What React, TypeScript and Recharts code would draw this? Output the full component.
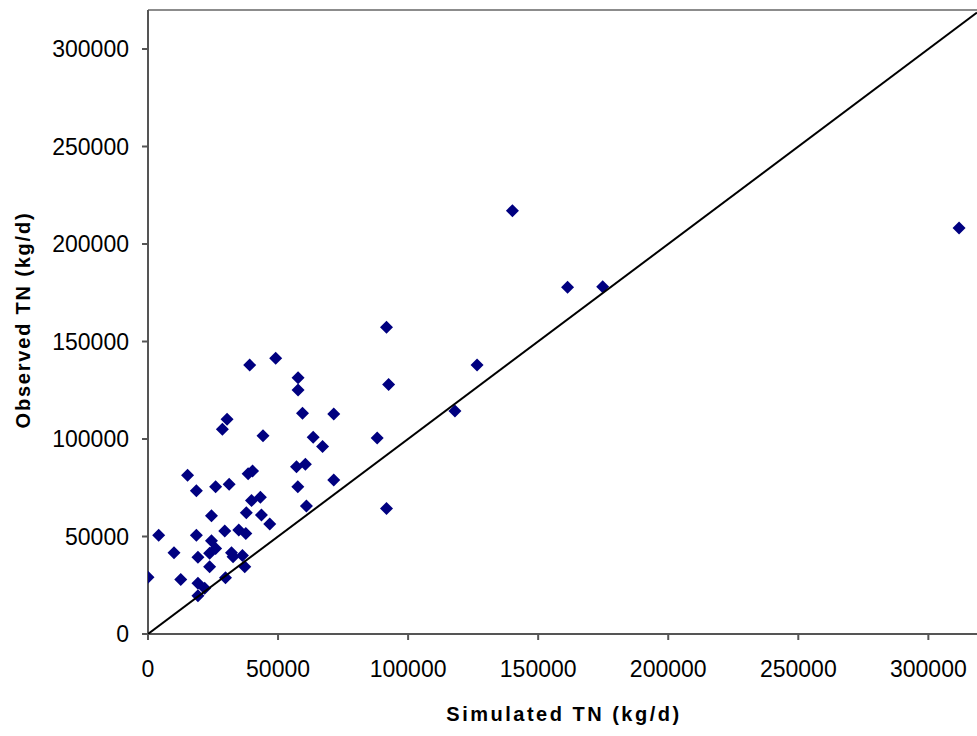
import { ScatterChart, Scatter, XAxis, YAxis, ReferenceLine } from 'recharts';

// simulated vs observed total nitrogen, kg/d
const simulated = [
    91700, 49100, 39100, 57700, 57700, 92500, 59400, 71400, 30400, 28600,
    44200, 88100, 63500, 67100, 15200, 38500, 40200, 57100, 60500, 18600,
    26000, 31200, 57600, 71400, 43200, 39800, 37800, 43600, 46800, 60900,
    91700, 24400, 4100, 18600, 29500, 34900, 37600, 10000, 24400, 26000,
    19200, 23700, 32100, 32700, 36300, 23700, 37200, 0, 12600, 29800,
    19200, 21800, 19200, 140100, 161300, 174800, 126500, 118000, 311800,
];
const observed = [
    157300, 141400, 137900, 131400, 125100, 127900, 113200, 112800, 110100, 105000,
    101700, 100500, 100900, 96100, 81400, 82200, 83600, 85800, 87000, 73500,
    75500, 76800, 75500, 79000, 70100, 68400, 62200, 61000, 56400, 65600,
    64300, 60700, 50600, 50600, 52800, 53300, 51600, 41700, 47800, 43900,
    39300, 41400, 41700, 39600, 40200, 34500, 34500, 29100, 28000, 28900,
    26000, 23400, 19600, 217100, 177800, 178100, 137900, 114400, 208200,
];

const xTicks = [0, 50000, 100000, 150000, 200000, 250000, 300000];
const yTicks = [0, 50000, 100000, 150000, 200000, 250000, 300000];
const oneToOne = [0, 318700];

const points = simulated.map((x, i) => ({ x, y: observed[i] }));
const lineData = oneToOne.map(v => ({ x: v, y: v }));

const FONT = '"Liberation Sans", Arial, sans-serif';

const Diamond = (props: any) => {
    const { cx, cy } = props;
    if (cx == null || cy == null) return null;
    const r = 6.5;
    return (
        <polygon
            points={`${cx},${cy - r} ${cx + r},${cy} ${cx},${cy + r} ${cx - r},${cy}`}
            fill="#000080"
        />
    );
};

export default function App() {
    return (
        <div style={{ position: 'absolute', left: 0, top: 0, width: 977, height: 736, background: '#fff' }}>
            <ScatterChart width={977} height={736} margin={{ top: 10, right: 0, bottom: 42, left: 8 }}>
                <XAxis
                    type="number"
                    dataKey="x"
                    domain={[0, 318700]}
                    ticks={xTicks}
                    allowDataOverflow
                    height={60}
                    stroke="#555"
                    strokeWidth={2}
                    tickSize={6}
                    tickMargin={21}
                    tick={{ fill: '#000', fontSize: 23, fontFamily: FONT }}
                    label={{
                        content: () => (
                            <text x={564} y={721} textAnchor="middle" fontFamily={FONT} fontSize={20}
                                fontWeight="bold" letterSpacing={2.5} fill="#000">
                                Simulated TN (kg/d)
                            </text>
                        ),
                    }}
                />
                <YAxis
                    type="number"
                    dataKey="y"
                    domain={[0, 320000]}
                    ticks={yTicks}
                    allowDataOverflow
                    width={140}
                    stroke="#555"
                    strokeWidth={2}
                    tickSize={6}
                    tickMargin={13}
                    tick={{ fill: '#000', fontSize: 23, fontFamily: FONT }}
                    label={{
                        content: () => (
                            <text x={29.5} y={320} transform="rotate(-90, 29.5, 320)" textAnchor="middle"
                                fontFamily={FONT} fontSize={20} fontWeight="bold" letterSpacing={1.8} fill="#000">
                                Observed TN (kg/d)
                            </text>
                        ),
                    }}
                />
                <ReferenceLine y={320000} stroke="#8c8c8c" strokeWidth={2} />
                <Scatter data={points} shape={Diamond} isAnimationActive={false} />
                <Scatter
                    data={lineData}
                    line={{ stroke: '#000', strokeWidth: 2 }}
                    shape={() => null}
                    isAnimationActive={false}
                />
            </ScatterChart>
        </div>
    );
}
